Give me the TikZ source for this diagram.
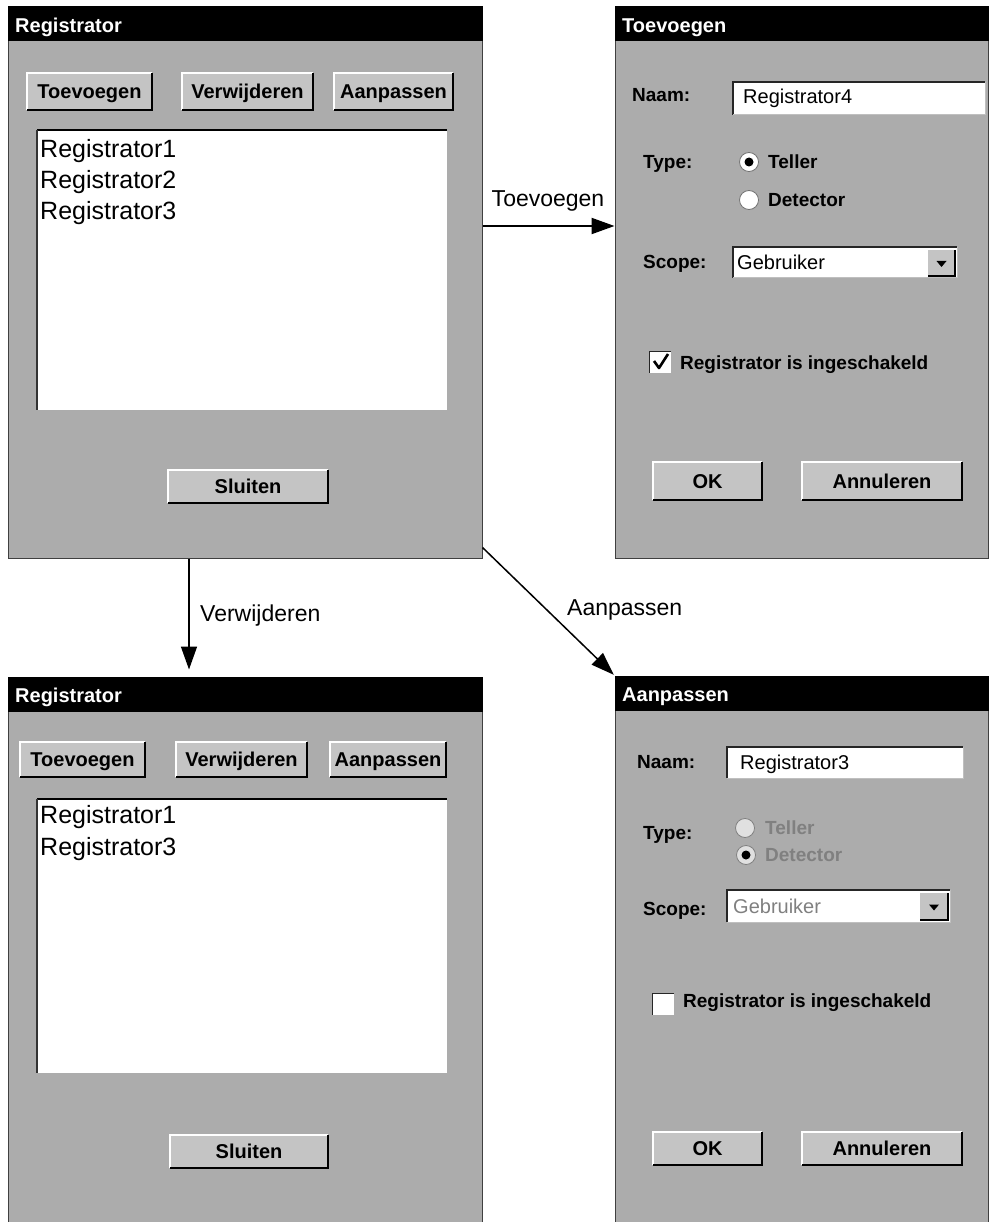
\documentclass[tikz,border=0pt]{standalone}
\usepackage{fontspec}
\setmainfont{Liberation Sans}
\usetikzlibrary{arrows.meta}

\definecolor{wingray}{RGB}{172,172,172}
\definecolor{btngray}{RGB}{196,196,196}
\definecolor{dimtext}{RGB}{128,128,128}

\newcommand\uifnt{\fontsize{19}{22}\selectfont\bfseries}
\newcommand\btnfnt{\fontsize{20}{23}\selectfont\bfseries}
\newcommand\titlefnt{\fontsize{20}{23}\selectfont\bfseries}
\newcommand\fieldfnt{\fontsize{20}{23}\selectfont}
\newcommand\listfnt{\fontsize{25}{28}\selectfont}
\newcommand\edgefnt{\fontsize{23}{26}\selectfont}

% raised push button: name, x1, y1, x2, y2, label
\newcommand\pushbtn[6]{%
  \fill[btngray] (#2,#3) rectangle (#4,#5);
  \draw[btnlight] (#2,#5) -- (#2,#3) -- (#4,#3);
  \draw[btnshade] (#2,#5) -- (#4,#5) -- (#4,#3);
  \node[btnlabel] (#1) at ({(#2+#4)/2},{(#3+#5)/2}) {#6};}

% sunken white entry field: x1, y1, x2, y2
\newcommand\entryfield[4]{%
  \fill[white] (#1,#2) rectangle (#3,#4);
  \draw[sunkdark] (#1,#4) -- (#1,#2) -- (#3,#2);
  \draw[sunklight] (#1,#4) -- (#3,#4) -- (#3,#2);}

% drop-down arrow button: x1, y1, x2, y2
\newcommand\dropbtn[4]{%
  \fill[btngray] (#1,#2) rectangle (#3,#4);
  \draw[btnshade] (#1,#4) -- (#3,#4) -- (#3,#2);
  \fill[black] ({(#1+#3)/2-5},{(#2+#4)/2-2}) -- ({(#1+#3)/2+5},{(#2+#4)/2-2})
               -- ({(#1+#3)/2},{(#2+#4)/2+4}) -- cycle;}

\begin{document}
\begin{tikzpicture}[x=1pt,y=-1pt,
  win/.style={rectangle, draw=black!75, line width=1pt, fill=wingray, inner sep=0pt},
  titlebar/.style={fill=black},
  wintitle/.style={anchor=west, inner sep=0pt, text=white, font=\titlefnt, text height=14.3pt, text depth=0pt},
  btnlight/.style={white, line width=1.2pt},
  btnshade/.style={black, line width=2.2pt},
  sunkdark/.style={black!85, line width=1.6pt},
  sunklight/.style={black!25, line width=1pt},
  btnlabel/.style={inner sep=0pt, font=\btnfnt, text height=14.3pt, text depth=0pt},
  uilabel/.style={anchor=west, inner sep=0pt, font=\uifnt, text height=13.6pt, text depth=0pt},
  dimlabel/.style={uilabel, text=dimtext},
  fieldtext/.style={anchor=west, inner sep=0pt, font=\fieldfnt, text height=14.3pt, text depth=0pt},
  listitem/.style={anchor=west, inner sep=0pt, font=\listfnt, text height=17.9pt, text depth=0pt},
  edgelabel/.style={inner sep=0pt, font=\edgefnt, text height=16.5pt, text depth=0pt},
  radiobox/.style={circle, fill=white, draw=black!55, line width=0.8pt, minimum size=19pt, inner sep=0pt},
  dimradio/.style={radiobox, fill=black!12, draw=dimtext},
  chkbox/.style={rectangle, fill=white, minimum size=21pt, inner sep=0pt},
  link/.style={-{Triangle[length=23pt,width=16pt]}, line width=1.5pt}]

\useasboundingbox (0,0) rectangle (988,1222);
\fill[white] (0,0) rectangle (988,1222);

% ---------- window frames ----------
\node[win, minimum width=474pt, minimum height=551pt] (w1) at (245,282.5) {};
\node[win, minimum width=373pt, minimum height=551pt] (w2) at (801.5,282.5) {};
\node[win, minimum width=474pt, minimum height=545pt] (w3) at (245,949.5) {};
\node[win, minimum width=373pt, minimum height=546pt] (w4) at (801.5,949) {};

\fill[titlebar] (w1.north west) rectangle ([yshift=-35pt]w1.north east);
\fill[titlebar] (w2.north west) rectangle ([yshift=-35pt]w2.north east);
\fill[titlebar] (w3.north west) rectangle ([yshift=-35pt]w3.north east);
\fill[titlebar] (w4.north west) rectangle ([yshift=-35pt]w4.north east);

\node[wintitle] (t1) at (15,25) {Registrator};
\node[wintitle] (t2) at (622,25) {Toevoegen};
\node[wintitle] (t3) at (15,695) {Registrator};
\node[wintitle] (t4) at (622,694) {Aanpassen};

% ---------- main list window ----------
\pushbtn{a1}{27}{73}{152}{110}{Toevoegen}
\pushbtn{a2}{182}{73}{313}{110}{Verwijderen}
\pushbtn{a3}{334}{73}{453}{110}{Aanpassen}
\fill[white] (37,130) rectangle (447,410);
\draw[black, line width=2pt] (37,130) -- (447,130);
\draw[black!80, line width=1.5pt] (37,130) -- (37,410);
\node[listitem] (r1) at (40,149) {Registrator1};
\node[listitem] (r2) at (40,180) {Registrator2};
\node[listitem] (r3) at (40,211) {Registrator3};
\pushbtn{a4}{168}{470}{328}{503}{Sluiten}

% ---------- list window after removal ----------
\pushbtn{b1}{20}{742}{145}{777}{Toevoegen}
\pushbtn{b2}{176}{742}{307}{777}{Verwijderen}
\pushbtn{b3}{330}{742}{446}{777}{Aanpassen}
\fill[white] (37,799) rectangle (447,1073);
\draw[black, line width=2pt] (37,799) -- (447,799);
\draw[black!80, line width=1.5pt] (37,799) -- (37,1073);
\node[listitem] (s1) at (40,814.5) {Registrator1};
\node[listitem] (s3) at (40,846.5) {Registrator3};
\pushbtn{b4}{170}{1135}{328}{1168}{Sluiten}

% ---------- add dialog ----------
\node[uilabel] (n1) at (632,95) {Naam:};
\entryfield{733}{82}{985}{115}
\node[fieldtext] (f1) at (743,96) {Registrator4};
\node[uilabel] (ty1) at (643,162) {Type:};
\node[radiobox] (o1) at (749,162) {};
\fill[black] (o1.center) circle[radius=4.5pt];
\node[uilabel] (o1t) at (768,162) {Teller};
\node[radiobox] (o2) at (749,200) {};
\node[uilabel] (o2t) at (768,200) {Detector};
\node[uilabel] (sc1) at (643,262) {Scope:};
\entryfield{733}{247}{957}{278}
\dropbtn{928}{250}{955}{276}
\node[fieldtext] (g1) at (737,262) {Gebruiker};
\node[chkbox] (c1) at (660,362) {};
\draw[sunkdark] (c1.south west) -- (c1.north west) -- (c1.north east);
\draw[black, line width=2.6pt, line join=round]
  ([shift={(-6pt,1pt)}]c1.center) -- ([shift={(-1pt,-6pt)}]c1.center) -- ([shift={(8pt,8pt)}]c1.center);
\node[uilabel] (c1t) at (680,363) {Registrator is ingeschakeld};
\pushbtn{d1}{653}{462}{762}{500}{OK}
\pushbtn{d2}{802}{462}{962}{500}{Annuleren}

% ---------- edit dialog ----------
\node[uilabel] (n2) at (637,762) {Naam:};
\entryfield{727}{747}{963}{778}
\node[fieldtext] (f2) at (740,762) {Registrator3};
\node[uilabel] (ty2) at (643,833) {Type:};
\node[dimradio] (p1) at (745,828) {};
\node[dimlabel] (p1t) at (765,828) {Teller};
\node[dimradio] (p2) at (746,855) {};
\fill[black] (p2.center) circle[radius=4.5pt];
\node[dimlabel] (p2t) at (765,855) {Detector};
\node[uilabel] (sc2) at (643,909) {Scope:};
\entryfield{727}{890}{950}{922}
\dropbtn{920}{893}{948}{920}
\node[fieldtext, text=dimtext] (g2) at (733,906) {Gebruiker};
\node[chkbox] (c2) at (663,1004) {};
\draw[sunkdark] (c2.south west) -- (c2.north west) -- (c2.north east);
\node[uilabel] (c2t) at (683,1001) {Registrator is ingeschakeld};
\pushbtn{e1}{653}{1132}{762}{1165}{OK}
\pushbtn{e2}{802}{1132}{962}{1165}{Annuleren}

% ---------- transitions ----------
\draw[link, line width=2.2pt] ([yshift=56.5pt]w1.east) -- ([yshift=56.5pt]w2.west);
\draw[link, shorten >=7pt] ([xshift=-56pt]w1.south) -- ([xshift=-56pt]w3.north);
\draw[link, shorten >=1pt] ([yshift=11pt]w1.south east) -- (w4.north west);
\node[edgelabel] (l1) at (548,198) {Toevoegen};
\node[edgelabel, anchor=west] (l2) at (200,613) {Verwijderen};
\node[edgelabel, anchor=west] (l3) at (567,607) {Aanpassen};
\end{tikzpicture}
\end{document}
